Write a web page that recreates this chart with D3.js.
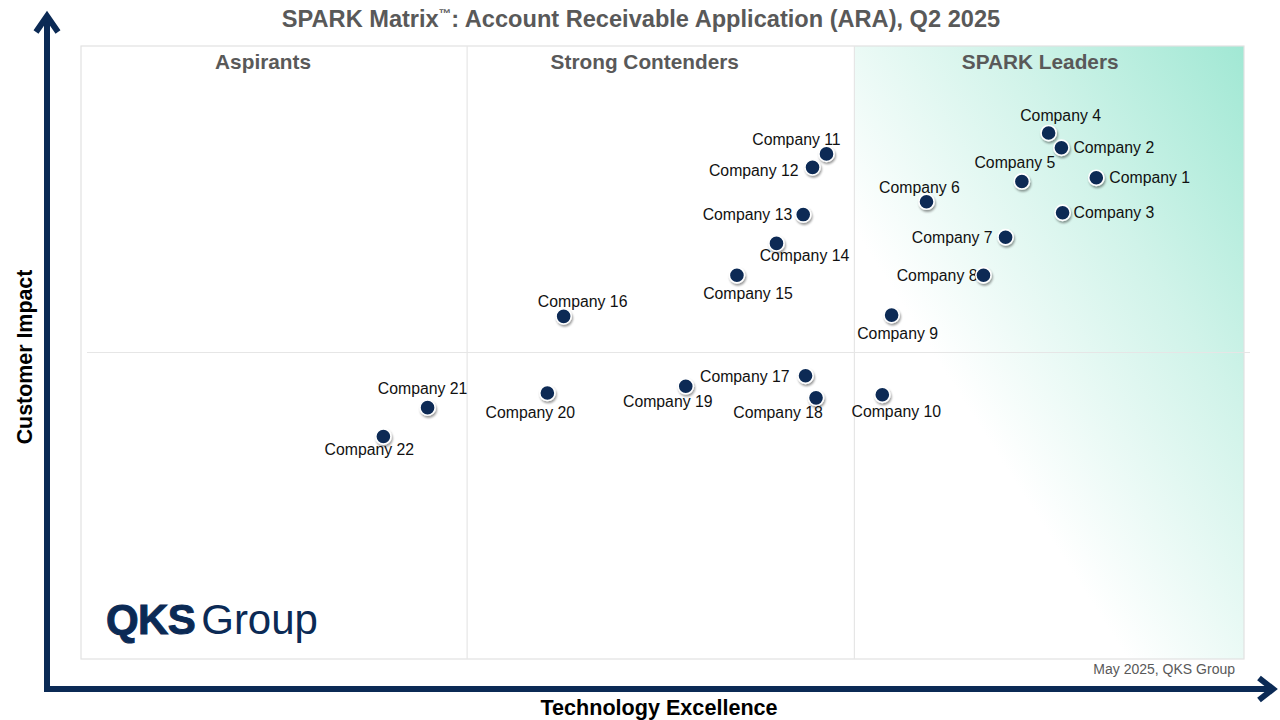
<!DOCTYPE html>
<html>
<head>
<meta charset="utf-8">
<script src="https://cdn.jsdelivr.net/npm/d3@7"></script>
<style>
  html, body { margin: 0; padding: 0; background: #fff; }
  svg { display: block; font-family: "Liberation Sans", Arial, sans-serif; }
</style>
</head>
<body>
<svg id="chart"></svg>
<script>
var width = 1280;
var height = 720;

// vendors and their scores (technology excellence, customer impact)
var companies = [
  "Company 1", "Company 2", "Company 3", "Company 4", "Company 5", "Company 6",
  "Company 7", "Company 8", "Company 9", "Company 10", "Company 11", "Company 12",
  "Company 13", "Company 14", "Company 15", "Company 16", "Company 17", "Company 18",
  "Company 19", "Company 20", "Company 21", "Company 22"
];
var techScores = [
  87.3, 84.3, 84.4, 83.2, 80.9, 72.7, 79.5, 77.6, 69.7, 68.9, 64.1,
  62.9, 62.1, 59.8, 56.4, 41.5, 62.3, 63.2, 52.0, 40.1, 29.8, 26.0
];
var impactScores = [
  78.5, 83.4, 72.8, 85.8, 77.9, 74.6, 68.8, 62.6, 56.1, 43.1, 82.4,
  80.2, 72.5, 67.8, 62.6, 55.9, 46.2, 42.6, 44.5, 43.4, 41.0, 36.3
];
var quadrantNames = ["Aspirants", "Strong Contenders", "SPARK Leaders"];
var xDividers = [33.2, 66.5];
var yDivider = 50;

var svg = d3.select("#chart").attr("width", width).attr("height", height);

var x = d3.scaleLinear().domain([0, 100]).range([81, 1244]);
var y = d3.scaleLinear().domain([0, 100]).range([659, 46]);

var navy = "#0b2a55";
var defs = svg.append("defs");

var grad = defs
  .append("linearGradient")
  .attr("id", "leaderGrad")
  .attr("x1", 0)
  .attr("y1", 1)
  .attr("x2", 1)
  .attr("y2", 0);
grad.append("stop").attr("offset", "0").attr("stop-color", "#ffffff");
grad.append("stop").attr("offset", "0.35").attr("stop-color", "#ffffff");
grad.append("stop").attr("offset", "0.7").attr("stop-color", "#d0f3e9");
grad.append("stop").attr("offset", "1").attr("stop-color", "#a1e8d4");

var shadow = defs.append("filter").attr("id", "dotShadow")
  .attr("x", "-50%").attr("y", "-50%").attr("width", "200%").attr("height", "200%");
shadow.append("feDropShadow")
  .attr("dx", 1).attr("dy", 2).attr("stdDeviation", 1.3)
  .attr("flood-color", "#000").attr("flood-opacity", 0.4);

// leaders background
svg.append("rect")
  .attr("x", x(xDividers[1]))
  .attr("y", y(100))
  .attr("width", x(100) - x(xDividers[1]))
  .attr("height", y(0) - y(100))
  .attr("fill", "url(#leaderGrad)");

// frame and dividers
svg.append("rect")
  .attr("x", x(0))
  .attr("y", y(100))
  .attr("width", x(100) - x(0))
  .attr("height", y(0) - y(100))
  .attr("fill", "none")
  .attr("stroke", "#e2e2e2")
  .attr("stroke-width", 1.2);

svg.selectAll(".vdiv")
  .data(xDividers)
  .enter()
  .append("line")
  .attr("class", "vdiv")
  .attr("x1", function (d) { return x(d); })
  .attr("x2", function (d) { return x(d); })
  .attr("y1", y(100))
  .attr("y2", y(0))
  .attr("stroke", "#e6e6e6")
  .attr("stroke-width", 1.2);

svg.append("line")
  .attr("x1", x(0) + 6)
  .attr("x2", x(100) + 6)
  .attr("y1", y(yDivider))
  .attr("y2", y(yDivider))
  .attr("stroke", "#e6e6e6")
  .attr("stroke-width", 1.2);

// quadrant names, set a little left of each column centre
var bounds = [0].concat(xDividers).concat([100]);
var nameShift = [-11, -16, -9];
svg.selectAll(".qname")
  .data(quadrantNames)
  .enter()
  .append("text")
  .attr("class", "qname")
  .attr("x", function (d, i) { return (x(bounds[i]) + x(bounds[i + 1])) / 2 + nameShift[i]; })
  .attr("y", 69)
  .attr("text-anchor", "middle")
  .attr("font-size", 20.8)
  .attr("font-weight", "bold")
  .attr("fill", "#595959")
  .text(function (d) { return d; });

// label placement next to each dot
var labelPlace = [
  ["start", 13, 5.5], ["start", 12, 5], ["start", 11, 5], ["middle", 12, -12],
  ["middle", -7, -13], ["middle", -7, -9], ["end", -13, 5.5], ["end", -6, 5.5],
  ["middle", 6, 24], ["middle", 14, 22], ["middle", -30, -9], ["end", -14, 8.5],
  ["end", -11, 5.5], ["middle", 28, 18], ["middle", 11, 24], ["middle", 19, -9.5],
  ["end", -16, 6], ["middle", -38, 20], ["middle", -18, 21], ["middle", -17, 25],
  ["middle", -5, -13.5], ["middle", -14, 19]
];

var points = companies.map(function (name, i) {
  return { name: name, tech: techScores[i], impact: impactScores[i], place: labelPlace[i] };
});

svg.selectAll(".clabel")
  .data(points)
  .enter()
  .append("text")
  .attr("class", "clabel")
  .attr("x", function (d) { return x(d.tech) + d.place[1]; })
  .attr("y", function (d) { return y(d.impact) + d.place[2]; })
  .attr("text-anchor", function (d) { return d.place[0]; })
  .attr("font-size", 15.8)
  .attr("fill", "#111")
  .text(function (d) { return d.name; });

svg.selectAll(".dot")
  .data(points)
  .enter()
  .append("circle")
  .attr("class", "dot")
  .attr("cx", function (d) { return x(d.tech); })
  .attr("cy", function (d) { return y(d.impact); })
  .attr("r", 7.6)
  .attr("fill", navy)
  .attr("stroke", "#fff")
  .attr("stroke-width", 1.6)
  .attr("filter", "url(#dotShadow)");

// title
var title = svg.append("text")
  .attr("x", 641)
  .attr("y", 27)
  .attr("text-anchor", "middle")
  .attr("font-size", 23.6)
  .attr("font-weight", "bold")
  .attr("fill", "#595959");
title.append("tspan").text("SPARK Matrix");
title.append("tspan").attr("font-size", 12.5).attr("dy", -9.5).text("™");
title.append("tspan").attr("dy", 9.5).text(": Account Receivable Application (ARA), Q2 2025");

// axes arrows
svg.append("line")
  .attr("x1", 47).attr("y1", 692).attr("x2", 47).attr("y2", 16)
  .attr("stroke", navy).attr("stroke-width", 6);
svg.append("polyline")
  .attr("points", "36,32 47,16 58,32")
  .attr("fill", "none").attr("stroke", navy).attr("stroke-width", 6)
  .attr("stroke-linejoin", "miter");

svg.append("line")
  .attr("x1", 44).attr("y1", 689).attr("x2", 1273).attr("y2", 689)
  .attr("stroke", navy).attr("stroke-width", 6);
svg.append("polyline")
  .attr("points", "1259,678 1273,689 1259,700")
  .attr("fill", "none").attr("stroke", navy).attr("stroke-width", 6)
  .attr("stroke-linejoin", "miter");

// axis titles
svg.append("text")
  .attr("x", 659)
  .attr("y", 715)
  .attr("text-anchor", "middle")
  .attr("font-size", 21.6)
  .attr("font-weight", "bold")
  .attr("fill", "#000")
  .text("Technology Excellence");

svg.append("text")
  .attr("transform", "translate(32,357) rotate(-90)")
  .attr("text-anchor", "middle")
  .attr("font-size", 21.4)
  .attr("font-weight", "bold")
  .attr("fill", "#000")
  .text("Customer Impact");

// footnote
svg.append("text")
  .attr("x", 1235)
  .attr("y", 674)
  .attr("text-anchor", "end")
  .attr("font-size", 14)
  .attr("fill", "#595959")
  .text("May 2025, QKS Group");

// logo
var logo = svg.append("text")
  .attr("x", 106)
  .attr("y", 634)
  .attr("font-size", 42)
  .attr("fill", navy);
logo.append("tspan").attr("font-weight", "bold").attr("letter-spacing", -0.6)
  .attr("stroke", navy).attr("stroke-width", 1).text("QKS");
logo.append("tspan").attr("dx", 6).attr("font-weight", "normal").text("Group");
</script>
</body>
</html>
